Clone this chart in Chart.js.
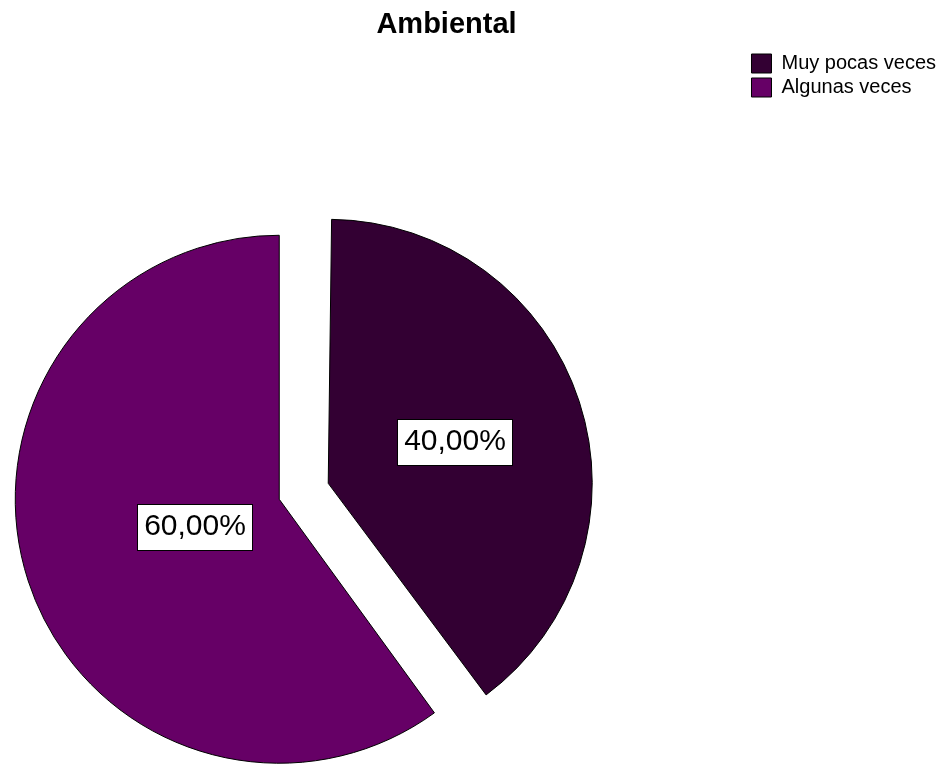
<!DOCTYPE html>
<html>
<head>
<meta charset="utf-8">
<title>Ambiental</title>
<script src="https://cdn.jsdelivr.net/npm/chart.js@4.4.1/dist/chart.umd.min.js"></script>
<style>
  html, body { margin: 0; padding: 0; background: #fff; overflow: hidden; }
  #wrap { position: relative; width: 946px; height: 765px; overflow: hidden; }
  /* canvas is wider/taller than the page so the pie sits left of centre like the original */
  #chart { position: absolute; left: -189px; top: 0; }
  #title {
    position: absolute; top: 9px; left: 0; width: 893px; text-align: center;
    font: bold 29px/29px "Liberation Sans", Arial, sans-serif; color: #000;
  }
</style>
</head>
<body>
<div id="wrap">
  <canvas id="chart" width="1135" height="949"></canvas>
  <div id="title">Ambiental</div>
</div>
<script>
const categories = ['Muy pocas veces', 'Algunas veces'];
const percentages = [40, 60];
const explodedCategory = 'Muy pocas veces';

const sliceColors = ['#330033', '#660066'];

function formatPct(v) {
    return v.toFixed(2).replace('.', ',') + '%';
}

// chart.js grows an offset arc's radius by this much when drawing it
function offsetGrowth(arc) {
    const shift = (arc.options.offset || 0) / 4;
    return shift * (1 - Math.sin(Math.min(Math.PI, arc.circumference)));
}

// undo that growth so both slices keep the same size
const keepRadius = {
    id: 'keepRadius',
    afterDatasetUpdate(chart, args) {
        args.meta.data.forEach(arc => {
            arc.outerRadius -= offsetGrowth(arc);
        });
    }
};

// boxed percentage labels at each slice's centroid
const sliceLabels = {
    id: 'sliceLabels',
    afterDatasetsDraw(chart) {
        const ctx = chart.ctx;
        const meta = chart.getDatasetMeta(0);
        ctx.save();
        ctx.font = '30px "Liberation Sans", Arial, sans-serif';
        ctx.textAlign = 'center';
        ctx.textBaseline = 'middle';
        meta.data.forEach((arc, i) => {
            const mid = (arc.startAngle + arc.endAngle) / 2;
            const theta = arc.endAngle - arc.startAngle;
            const shift = (arc.options.offset || 0) / 4;
            const r = arc.outerRadius + offsetGrowth(arc);
            const d = 4 * r * Math.sin(theta / 2) / (3 * theta);
            const x = arc.x + Math.cos(mid) * (shift + d);
            const y = arc.y + Math.sin(mid) * (shift + d);
            const text = formatPct(percentages[i]);
            const w = Math.round(ctx.measureText(text).width + 13);
            const h = 46;
            const bx = Math.round(x - w / 2) + 0.5;
            const by = Math.round(y - h / 2) + 0.5;
            ctx.fillStyle = '#fff';
            ctx.fillRect(bx, by, w, h);
            ctx.strokeStyle = '#000';
            ctx.lineWidth = 1;
            ctx.strokeRect(bx, by, w, h);
            ctx.fillStyle = '#000';
            ctx.fillText(text, bx + w / 2, by + h / 2 - 1);
        });
        ctx.restore();
    }
};

Chart.defaults.color = '#000';
Chart.defaults.font.family = '"Liberation Sans", Arial, sans-serif';

new Chart(document.getElementById('chart'), {
    type: 'pie',
    data: {
        labels: categories,
        datasets: [{
            data: percentages,
            backgroundColor: sliceColors,
            borderColor: '#000',
            borderWidth: 1,
            borderJoinStyle: 'miter',
            offset: ctx => categories[ctx.dataIndex] === explodedCategory ? 206 : 0
        }]
    },
    options: {
        responsive: false,
        animation: false,
        events: [],
        radius: 264,
        layout: {
            padding: { left: 0, right: 0, top: 49.5, bottom: 0 }
        },
        plugins: {
            legend: {
                position: 'right',
                align: 'start',
                labels: {
                    boxWidth: 20,
                    boxHeight: 19,
                    padding: 4,
                    font: { size: 20 }
                }
            },
            title: { display: false },
            tooltip: { enabled: false }
        }
    },
    plugins: [keepRadius, sliceLabels]
});
</script>
</body>
</html>
